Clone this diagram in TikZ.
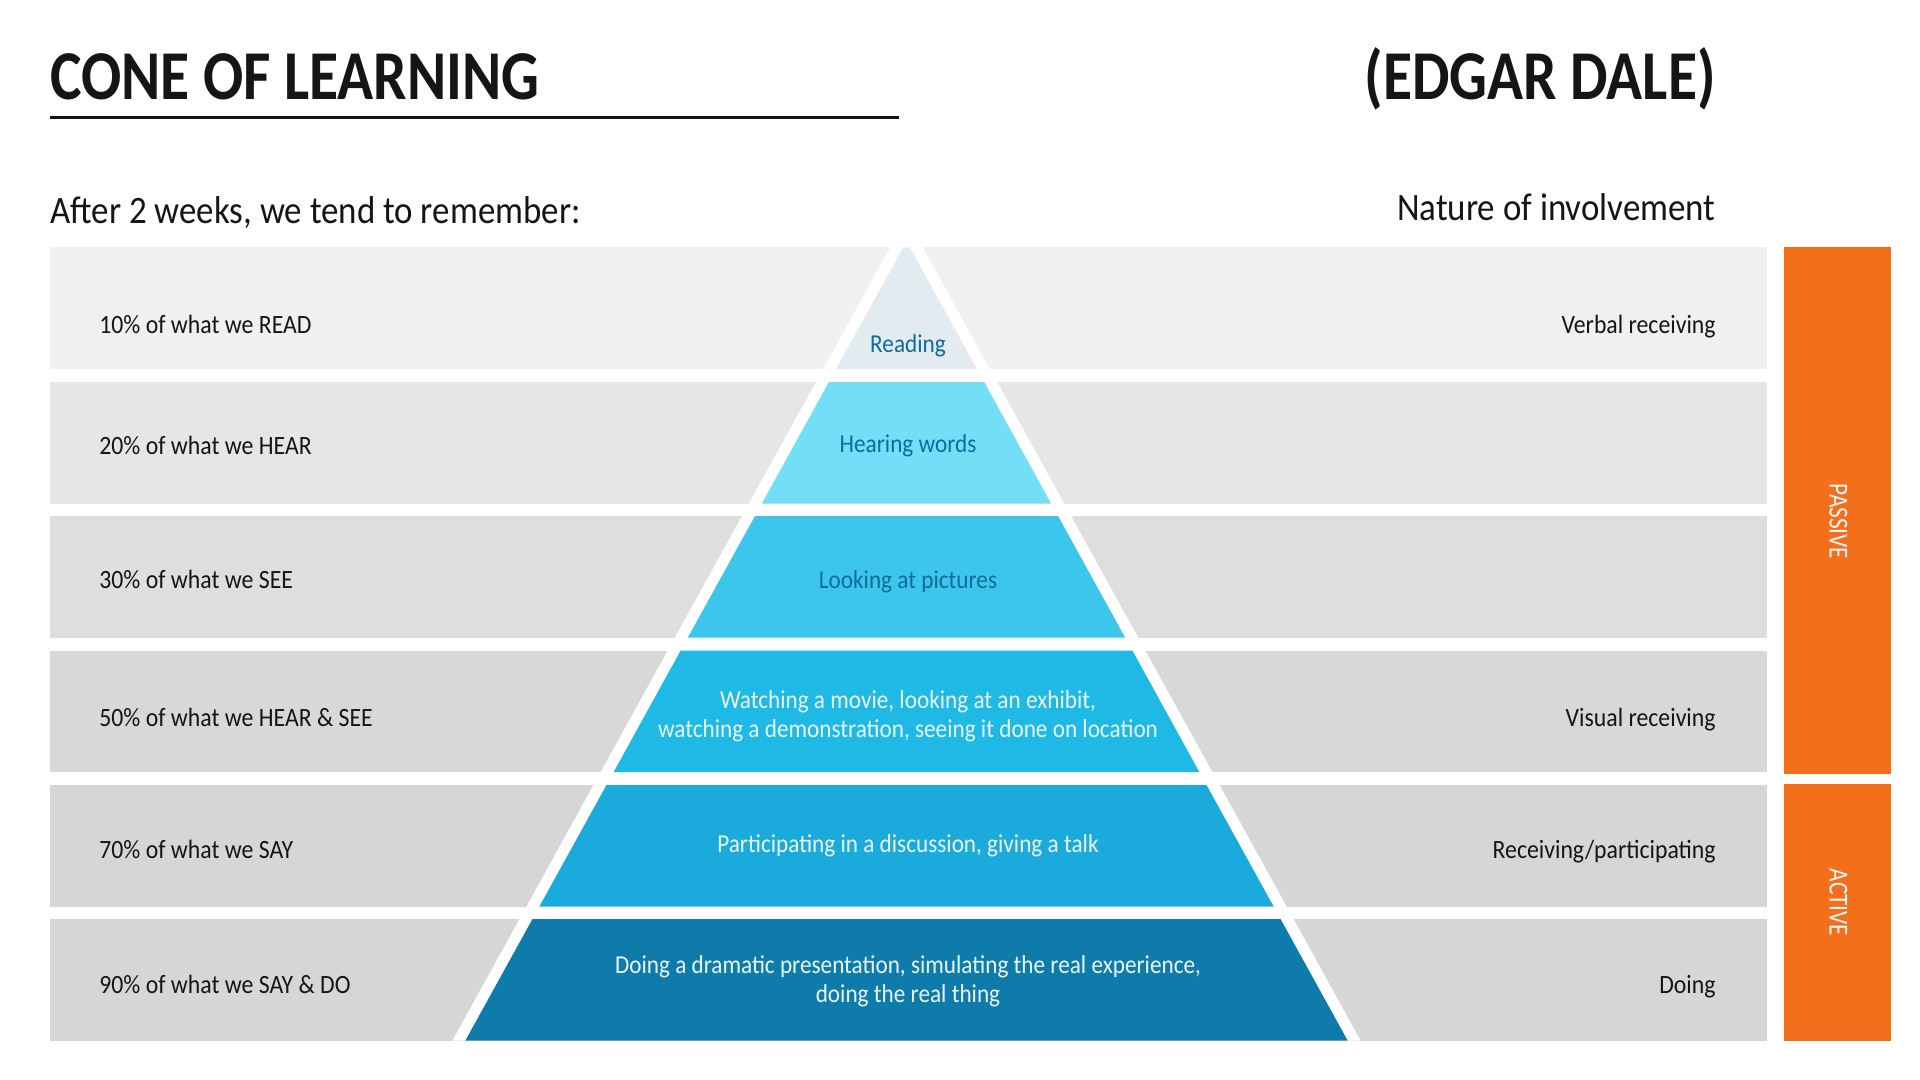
\documentclass[tikz,border=0pt]{standalone}
\usepackage{fontspec}
\setmainfont{Carlito}[FakeStretch=0.9]
\newfontfamily\headfont{Carlito}[FakeStretch=0.85]
\newfontfamily\barfont{Carlito}[FakeStretch=0.85]

\definecolor{ink}{HTML}{151515}
\definecolor{bandA}{HTML}{F0F0F0}
\definecolor{bandB}{HTML}{E6E6E6}
\definecolor{bandC}{HTML}{DEDEDE}
\definecolor{bandD}{HTML}{D8D8D8}
\definecolor{bandE}{HTML}{D6D6D6}
\definecolor{lvlA}{HTML}{E2EBEF}
\definecolor{lvlB}{HTML}{72DFF6}
\definecolor{lvlC}{HTML}{3DC6EC}
\definecolor{lvlD}{HTML}{1EB9E4}
\definecolor{lvlE}{HTML}{1AABDC}
\definecolor{lvlF}{HTML}{0E7BAB}
\definecolor{deepblue}{HTML}{0E6C9C}
\definecolor{paletext}{HTML}{EAF6FB}
\definecolor{orangebar}{HTML}{F36F1B}

\begin{document}
\begin{tikzpicture}[x=0.5pt,y=-0.5pt,
  title/.style={font=\headfont\bfseries\fontsize{35}{40}\selectfont, text=ink, inner sep=0pt},
  subhead/.style={font=\fontsize{19.4}{23}\selectfont, text=ink, inner sep=0pt},
  rowlabel/.style={font=\fontsize{13.2}{16}\selectfont, text=ink, inner sep=0pt},
  conelabel/.style={font=\fontsize{12.9}{14.7}\selectfont, inner sep=0pt, align=center},
  barlabel/.style={font=\barfont\fontsize{13.7}{16}\selectfont, text=paletext, inner sep=0pt, rotate=-90}]

\useasboundingbox (0,0) rectangle (1920,1080);
\fill[white] (0,0) rectangle (1920,1080);

% headings
\node[title, anchor=base west] (title) at (50,99.5) {CONE OF LEARNING};
\node[title, anchor=base east] (author) at (1716,99.5) {(EDGAR DALE)};
\fill[ink] (50,116) rectangle (899,119.5);
\node[subhead, anchor=base west] (remember) at (50,224) {After 2 weeks, we tend to remember:};
\node[subhead, anchor=base east] (nature) at (1716,221) {Nature of involvement};

% horizontal bands
\fill[bandA] (50,247.5) rectangle (1767,369);
\fill[bandB] (50,382) rectangle (1767,503.5);
\fill[bandC] (50,516) rectangle (1767,637.5);
\fill[bandD] (50,650.5) rectangle (1767,772);
\fill[bandE] (50,785) rectangle (1767,906.5);
\fill[bandE] (50,919) rectangle (1767,1040.5);

% white outline of the cone
\fill[white] (906.5,217.9) -- (1360.5,1040.5) -- (452.5,1040.5) -- cycle;

% cone levels
\fill[lvlA] (903.2,247.5) -- (909.8,247.5) -- (976.9,369) -- (836.1,369) -- cycle;
\fill[lvlB] (828.9,382) -- (984.1,382) -- (1051.1,503.5) -- (761.9,503.5) -- cycle;
\fill[lvlC] (755.0,516) -- (1058.0,516) -- (1125.1,637.5) -- (687.9,637.5) -- cycle;
\fill[lvlD] (680.7,650.5) -- (1132.3,650.5) -- (1199.3,772) -- (613.7,772) -- cycle;
\fill[lvlE] (606.5,785) -- (1206.5,785) -- (1273.6,906.5) -- (539.4,906.5) -- cycle;
\fill[lvlF] (532.5,919) -- (1280.5,919) -- (1347.6,1040.5) -- (465.4,1040.5) -- cycle;

% texts inside the cone
\node[conelabel, text=deepblue, anchor=base] (reading) at (908,352.7) {Reading};
\node[conelabel, text=deepblue, anchor=base] (hearing) at (908,452.7) {Hearing words};
\node[conelabel, text=deepblue, anchor=base] (looking) at (908,588.7) {Looking at pictures};
\node[conelabel, text=paletext] (watching) at (908,716) {Watching a movie, looking at an exhibit,\\watching a demonstration, seeing it done on location};
\node[conelabel, text=paletext, anchor=base] (participating) at (908,852.3) {Participating in a discussion, giving a talk};
\node[conelabel, text=paletext] (doing) at (908,981) {Doing a dramatic presentation, simulating the real experience,\\doing the real thing};

% retention percentages
\node[rowlabel, anchor=base west] (pct10) at (99,334) {10\% of what we READ};
\node[rowlabel, anchor=base west] (pct20) at (99,454) {20\% of what we HEAR};
\node[rowlabel, anchor=base west] (pct30) at (99,588) {30\% of what we SEE};
\node[rowlabel, anchor=base west] (pct50) at (99,726) {50\% of what we HEAR \& SEE};
\node[rowlabel, anchor=base west] (pct70) at (99,858.3) {70\% of what we SAY};
\node[rowlabel, anchor=base west] (pct90) at (99,993.3) {90\% of what we SAY \& DO};

% kinds of involvement
\node[rowlabel, anchor=base east] (verbal) at (1716,334) {Verbal receiving};
\node[rowlabel, anchor=base east] (visual) at (1716,726) {Visual receiving};
\node[rowlabel, anchor=base east] (recpart) at (1716,858.3) {Receiving/participating};
\node[rowlabel, anchor=base east] (doingkind) at (1716,993.3) {Doing};

% passive / active bars
\fill[orangebar] (1784,247.5) rectangle (1890.5,774);
\fill[orangebar] (1784,784) rectangle (1890.5,1040.5);
\node[barlabel] (passive) at (1838.5,521.5) {PASSIVE};
\node[barlabel] (active) at (1838.5,902.5) {ACTIVE};
\end{tikzpicture}
\end{document}
